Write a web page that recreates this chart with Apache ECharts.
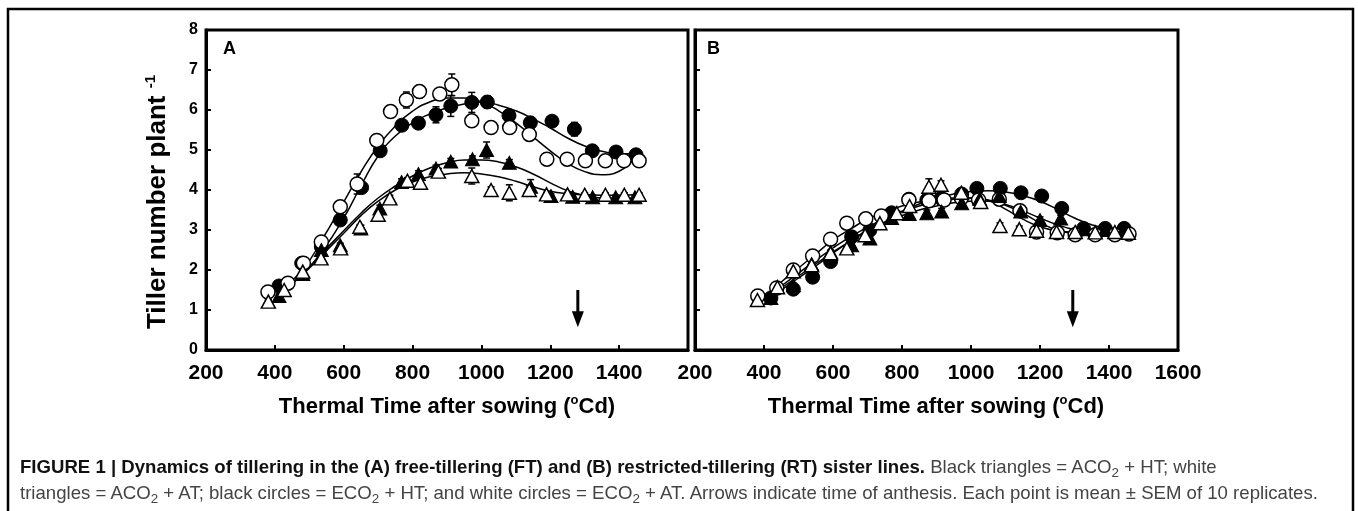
<!DOCTYPE html>
<html>
<head>
<meta charset="utf-8">
<script src="https://cdn.jsdelivr.net/npm/echarts@6/dist/echarts.min.js"></script>
<style>
  html, body { margin: 0; padding: 0; background: #fff; }
  #wrap { position: relative; width: 1358px; height: 511px; overflow: hidden; }
  #chart { position: absolute; left: 0; top: 0; width: 1358px; height: 511px; }
  #caption {
    position: absolute; left: 20px; top: 454px;
    font-family: 'Liberation Sans', Arial, sans-serif; font-size: 18.6px; line-height: 26px;
    color: #444; white-space: nowrap;
  }
  #caption b { color: #111; }
  #caption sub { font-size: 0.72em; vertical-align: -0.3em; line-height: 0; }
</style>
</head>
<body>
<div id="wrap">
  <div id="chart"></div>
  <div id="caption"><b>FIGURE 1 | Dynamics of tillering in the (A) free-tillering (FT) and (B) restricted-tillering (RT) sister lines.</b> Black triangles = ACO<sub>2</sub> + HT; white<br>triangles = ACO<sub>2</sub> + AT; black circles = ECO<sub>2</sub> + HT; and white circles = ECO<sub>2</sub> + AT. Arrows indicate time of anthesis. Each point is mean ± SEM of 10 replicates.</div>
</div>
<script>
// ---------- panel A : free-tillering (FT) ----------
// black triangles = ACO2 + HT
const ftAcoHtX = [412, 481, 535, 590, 650, 705, 768, 817, 868, 911, 974, 1015, 1081, 1143, 1202, 1265, 1323, 1390, 1446];
const ftAcoHtY = [1.35, 1.9, 2.5, 2.62, 3.04, 3.54, 4.2, 4.4, 4.54, 4.71, 4.77, 5.0, 4.68, 4.08, 3.85, 3.83, 3.82, 3.82, 3.82];
const ftAcoHtE = [0.05, 0.05, 0.05, 0.05, 0.08, 0.08, 0.08, 0.08, 0.08, 0.08, 0.08, 0.2, 0.08, 0.18, 0.05, 0.05, 0.05, 0.05, 0.05];
// white triangles = ACO2 + AT
const ftAcoAtX = [381, 427, 481, 534, 591, 647, 700, 734, 785, 823, 875, 972, 1028, 1081, 1139, 1189, 1250, 1300, 1360, 1415, 1458];
const ftAcoAtY = [1.21, 1.5, 1.96, 2.29, 2.54, 3.08, 3.38, 3.79, 4.23, 4.18, 4.46, 4.35, 4.0, 3.93, 4.0, 3.89, 3.89, 3.88, 3.88, 3.88, 3.88];
const ftAcoAtE = [0.05, 0.05, 0.05, 0.05, 0.05, 0.05, 0.08, 0.08, 0.08, 0.08, 0.08, 0.2, 0.08, 0.2, 0.1, 0.05, 0.05, 0.05, 0.05, 0.05, 0.05];
// black circles = ECO2 + HT
const ftEcoHtX = [412, 478, 535, 590, 652, 706, 769, 817, 868, 911, 972, 1017, 1080, 1142, 1205, 1270, 1322, 1391, 1449];
const ftEcoHtY = [1.6, 2.17, 2.58, 3.25, 4.06, 4.98, 5.62, 5.67, 5.88, 6.1, 6.19, 6.2, 5.86, 5.68, 5.72, 5.52, 4.98, 4.95, 4.88];
const ftEcoHtE = [0.05, 0.05, 0.05, 0.05, 0.08, 0.1, 0.08, 0.08, 0.2, 0.26, 0.25, 0.15, 0.08, 0.1, 0.08, 0.17, 0.08, 0.08, 0.1];
// white circles = ECO2 + AT
const ftEcoAtX = [380, 438, 483, 535, 590, 639, 696, 736, 782, 820, 879, 914, 972, 1028, 1082, 1139, 1190, 1249, 1302, 1360, 1414, 1458];
const ftEcoAtY = [1.45, 1.67, 2.17, 2.7, 3.58, 4.15, 5.24, 5.96, 6.25, 6.46, 6.4, 6.63, 5.73, 5.56, 5.56, 5.39, 4.77, 4.77, 4.73, 4.73, 4.73, 4.73];
const ftEcoAtE = [0.05, 0.05, 0.05, 0.08, 0.08, 0.25, 0.1, 0.08, 0.2, 0.15, 0.08, 0.27, 0.1, 0.08, 0.08, 0.1, 0.08, 0.08, 0.08, 0.08, 0.08, 0.08];
// fitted curves
const ftCurveX = [420, 480, 540, 600, 650, 700, 750, 800, 850, 900, 950, 1000, 1050, 1100, 1150, 1200, 1250, 1300, 1350, 1400, 1450];
const ftAcoHtFit = [1.42, 1.9, 2.45, 2.98, 3.42, 3.8, 4.1, 4.35, 4.55, 4.68, 4.75, 4.75, 4.7, 4.58, 4.4, 4.18, 3.98, 3.86, 3.8, 3.79, 3.8];
const ftAcoAtFit = [1.42, 1.88, 2.4, 2.92, 3.36, 3.72, 4.0, 4.2, 4.33, 4.4, 4.43, 4.4, 4.33, 4.22, 4.08, 3.97, 3.91, 3.88, 3.87, 3.87, 3.88];
const ftEcoHtFit = [1.5, 1.9, 2.5, 3.3, 4.1, 4.85, 5.35, 5.68, 5.9, 6.05, 6.15, 6.2, 6.12, 5.98, 5.78, 5.55, 5.3, 5.1, 4.97, 4.9, 4.92];
const ftEcoAtFit = [1.55, 2.0, 2.8, 3.7, 4.45, 5.1, 5.6, 5.97, 6.2, 6.3, 6.3, 6.2, 5.98, 5.68, 5.33, 4.98, 4.67, 4.46, 4.38, 4.47, 4.85];

// ---------- panel B : restricted-tillering (RT) ----------
const rtAcoHtX = [420, 485, 538, 593, 654, 707, 770, 821, 872, 915, 973, 1025, 1082, 1144, 1200, 1260, 1326, 1389, 1444];
const rtAcoHtY = [1.3, 1.62, 2.15, 2.45, 2.62, 2.79, 3.3, 3.4, 3.42, 3.46, 3.67, 3.78, 3.85, 3.46, 3.25, 3.29, 3.02, 3.0, 3.02];
const rtAcoHtE = [0.05, 0.05, 0.05, 0.05, 0.05, 0.05, 0.05, 0.08, 0.08, 0.08, 0.08, 0.08, 0.08, 0.08, 0.08, 0.08, 0.05, 0.05, 0.05];
const rtAcoAtX = [381, 439, 485, 538, 593, 640, 693, 736, 785, 822, 878, 913, 972, 1028, 1084, 1140, 1190, 1248, 1302, 1360, 1417, 1456];
const rtAcoAtY = [1.25, 1.57, 1.97, 2.12, 2.42, 2.54, 2.87, 3.17, 3.42, 3.6, 4.08, 4.13, 3.93, 3.7, 3.1, 3.02, 2.98, 2.95, 2.95, 2.94, 2.95, 2.93];
const rtAcoAtE = [0.05, 0.05, 0.05, 0.05, 0.05, 0.05, 0.05, 0.05, 0.05, 0.08, 0.2, 0.1, 0.08, 0.15, 0.08, 0.08, 0.05, 0.05, 0.05, 0.05, 0.05, 0.05];
const rtEcoHtX = [420, 485, 541, 593, 654, 707, 770, 820, 872, 913, 973, 1017, 1085, 1145, 1205, 1263, 1326, 1389, 1444];
const rtEcoHtY = [1.3, 1.52, 1.82, 2.21, 2.83, 3.0, 3.43, 3.77, 3.75, 3.79, 3.9, 4.04, 4.04, 3.93, 3.85, 3.54, 3.04, 3.04, 3.04];
const rtEcoHtE = [0.05, 0.05, 0.05, 0.05, 0.05, 0.05, 0.05, 0.05, 0.05, 0.08, 0.08, 0.08, 0.08, 0.08, 0.08, 0.08, 0.05, 0.05, 0.05];
const rtEcoAtX = [382, 437, 485, 541, 593, 640, 695, 740, 820, 878, 922, 972, 1022, 1082, 1142, 1190, 1250, 1302, 1360, 1417, 1458];
const rtEcoAtY = [1.35, 1.55, 2.0, 2.35, 2.77, 3.17, 3.28, 3.35, 3.75, 3.73, 3.75, 3.8, 3.75, 3.77, 3.48, 2.95, 2.93, 2.88, 2.88, 2.88, 2.9];
const rtEcoAtE = [0.05, 0.05, 0.05, 0.05, 0.05, 0.05, 0.05, 0.05, 0.05, 0.05, 0.05, 0.05, 0.05, 0.08, 0.08, 0.05, 0.05, 0.05, 0.05, 0.05, 0.05];
const rtCurveX = [400, 450, 500, 550, 600, 650, 700, 750, 800, 850, 900, 950, 1000, 1050, 1100, 1150, 1200, 1250, 1300, 1350, 1400, 1450];
const rtAcoHtFit = [1.25, 1.55, 1.85, 2.15, 2.45, 2.72, 2.97, 3.18, 3.36, 3.5, 3.6, 3.68, 3.72, 3.72, 3.64, 3.48, 3.3, 3.13, 3.01, 2.96, 2.95, 2.97];
const rtAcoAtFit = [1.28, 1.6, 1.92, 2.24, 2.55, 2.83, 3.07, 3.28, 3.46, 3.6, 3.7, 3.77, 3.8, 3.74, 3.52, 3.27, 3.08, 2.98, 2.94, 2.92, 2.92, 2.93];
const rtEcoHtFit = [1.22, 1.5, 1.8, 2.1, 2.42, 2.72, 3.0, 3.25, 3.47, 3.65, 3.8, 3.9, 3.96, 3.98, 3.95, 3.86, 3.72, 3.52, 3.3, 3.13, 3.03, 3.0];
const rtEcoAtFit = [1.32, 1.7, 2.05, 2.4, 2.75, 3.02, 3.27, 3.45, 3.6, 3.7, 3.77, 3.8, 3.8, 3.75, 3.62, 3.42, 3.18, 3.0, 2.91, 2.88, 2.88, 2.9];

// time of anthesis (arrows), panel A then B
const anthesis = [1280, 1295];

const xTicks = [200, 400, 600, 800, 1000, 1200, 1400, 1600];

const FONT = "'Liberation Sans', Arial, sans-serif";

function pairs(xs, ys) { return xs.map((x, i) => [x, ys[i]]); }
function triples(xs, ys, es) { return xs.map((x, i) => [x, ys[i], es[i]]); }

// error bars drawn under the markers
function renderErr(params, api) {
  const x = api.value(0), y = api.value(1), e = api.value(2);
  const t = api.coord([x, y + e]);
  const b = api.coord([x, y - e]);
  const cap = 3.5;
  const st = { stroke: '#000', lineWidth: 1.5 };
  return {
    type: 'group', children: [
      { type: 'line', shape: { x1: t[0], y1: t[1], x2: b[0], y2: b[1] }, style: st },
      { type: 'line', shape: { x1: t[0] - cap, y1: t[1], x2: t[0] + cap, y2: t[1] }, style: st },
      { type: 'line', shape: { x1: b[0] - cap, y1: b[1], x2: b[0] + cap, y2: b[1] }, style: st }
    ]
  };
}

function renderArrow(params, api) {
  const x = api.value(0);
  const a = api.coord([x, api.value(1)]);
  const b = api.coord([x, api.value(2)]);
  const hw = 6, hh = 16;
  return {
    type: 'group', children: [
      { type: 'line', shape: { x1: a[0], y1: a[1], x2: b[0], y2: b[1] - hh + 2 }, style: { stroke: '#000', lineWidth: 3 } },
      { type: 'polygon', shape: { points: [[b[0] - hw, b[1] - hh], [b[0] + hw, b[1] - hh], [b[0], b[1]]] }, style: { fill: '#000' } }
    ]
  };
}

function panel(g, sets, curveX, fits, anth) {
  const out = [];
  fits.forEach(f => out.push({
    type: 'line', xAxisIndex: g, yAxisIndex: g, data: pairs(curveX, f),
    smooth: true, showSymbol: false, silent: true, z: 2,
    lineStyle: { color: '#000', width: 1.5 }
  }));
  sets.forEach(s => out.push({
    type: 'custom', xAxisIndex: g, yAxisIndex: g, data: triples(s.x, s.y, s.e),
    renderItem: renderErr, encode: { x: 0, y: 1 }, silent: true, z: 3
  }));
  sets.forEach((s, k) => out.push({
    type: 'scatter', xAxisIndex: g, yAxisIndex: g, data: pairs(s.x, s.y),
    symbol: s.tri ? 'triangle' : 'circle',
    symbolSize: s.tri ? [14, 13] : 14,
    itemStyle: s.filled ? { color: '#000', borderColor: '#000', borderWidth: 1, opacity: 1 }
                        : { color: '#fff', borderColor: '#000', borderWidth: 1.5, opacity: 1 },
    silent: true, z: 4 + k
  }));
  out.push({
    type: 'custom', xAxisIndex: g, yAxisIndex: g, data: [[anth, 1.5, 0.57]],
    renderItem: renderArrow, encode: { x: 0, y: 1 }, silent: true, z: 9
  });
  return out;
}

const seriesA = panel(0, [
  { x: ftEcoHtX, y: ftEcoHtY, e: ftEcoHtE, tri: false, filled: true },
  { x: ftEcoAtX, y: ftEcoAtY, e: ftEcoAtE, tri: false, filled: false },
  { x: ftAcoHtX, y: ftAcoHtY, e: ftAcoHtE, tri: true, filled: true },
  { x: ftAcoAtX, y: ftAcoAtY, e: ftAcoAtE, tri: true, filled: false }
], ftCurveX, [ftAcoHtFit, ftAcoAtFit, ftEcoHtFit, ftEcoAtFit], anthesis[0]);

const seriesB = panel(1, [
  { x: rtEcoHtX, y: rtEcoHtY, e: rtEcoHtE, tri: false, filled: true },
  { x: rtEcoAtX, y: rtEcoAtY, e: rtEcoAtE, tri: false, filled: false },
  { x: rtAcoHtX, y: rtAcoHtY, e: rtAcoHtE, tri: true, filled: true },
  { x: rtAcoAtX, y: rtAcoAtY, e: rtAcoAtE, tri: true, filled: false }
], rtCurveX, [rtAcoHtFit, rtAcoAtFit, rtEcoHtFit, rtEcoAtFit], anthesis[1]);

function xAxis(g, hideLast) {
  return {
    gridIndex: g, type: 'value', min: xTicks[0], max: xTicks[xTicks.length - 1], interval: 200,
    axisLine: { show: true, onZero: false, lineStyle: { color: '#000', width: 3 } },
    axisTick: { show: true, inside: true, length: 5, lineStyle: { color: '#000', width: 2 } },
    splitLine: { show: false },
    axisLabel: {
      fontSize: 21, fontWeight: 'bold', color: '#000', fontFamily: FONT, margin: 13,
      formatter: v => (hideLast && v === 1600) ? '' : String(v)
    }
  };
}
function yAxis(g, labels) {
  return {
    gridIndex: g, type: 'value', min: 0, max: 8, interval: 1,
    axisLine: { show: true, onZero: false, lineStyle: { color: '#000', width: 3 } },
    axisTick: { show: true, inside: true, length: 5, lineStyle: { color: '#000', width: 2 } },
    splitLine: { show: false },
    axisLabel: { show: labels, fontSize: 16, fontWeight: 'bold', color: '#000', fontFamily: FONT, margin: 8 }
  };
}

const titleRich = {
  t: { fontSize: 22, fontWeight: 'bold', fontFamily: FONT, fill: '#000', lineHeight: 26 },
  s: { fontSize: 13, fontWeight: 'bold', fontFamily: FONT, fill: '#000', lineHeight: 26, verticalAlign: 'top' }
};

const chart = echarts.init(document.getElementById('chart'), null, { renderer: 'canvas' });
chart.setOption({
  animation: false,
  backgroundColor: '#fff',
  grid: [
    { left: 206, top: 30, width: 482, height: 320, show: true, borderColor: '#000', borderWidth: 3, backgroundColor: 'transparent' },
    { left: 695, top: 30, width: 483, height: 320, show: true, borderColor: '#000', borderWidth: 3, backgroundColor: 'transparent' }
  ],
  xAxis: [xAxis(0, true), xAxis(1, false)],
  yAxis: [yAxis(0, true), yAxis(1, false)],
  series: seriesA.concat(seriesB),
  graphic: [
    { type: 'rect', shape: { x: 8, y: 9, width: 1345, height: 560 }, style: { fill: 'none', stroke: '#000', lineWidth: 2.5 }, silent: true },
    { type: 'text', x: 223, y: 40, style: { text: 'A', fontSize: 18, fontWeight: 'bold', fontFamily: FONT, fill: '#000' } },
    { type: 'text', x: 707, y: 40, style: { text: 'B', fontSize: 18, fontWeight: 'bold', fontFamily: FONT, fill: '#000' } },
    {
      type: 'text', x: 158, y: 202, rotation: Math.PI / 2,
      style: {
        text: '{t|Tiller number plant }{s|-1}', align: 'center', verticalAlign: 'middle',
        rich: {
          t: { fontSize: 26, fontWeight: 'bold', fontFamily: FONT, fill: '#000', lineHeight: 30 },
          s: { fontSize: 15, fontWeight: 'bold', fontFamily: FONT, fill: '#000', lineHeight: 30, verticalAlign: 'top' }
        }
      }
    },
    {
      type: 'text', x: 447, y: 407,
      style: { text: '{t|Thermal Time after sowing (}{s|o}{t|Cd)}', align: 'center', verticalAlign: 'middle', rich: titleRich }
    },
    {
      type: 'text', x: 936, y: 407,
      style: { text: '{t|Thermal Time after sowing (}{s|o}{t|Cd)}', align: 'center', verticalAlign: 'middle', rich: titleRich }
    }
  ]
});
</script>
</body>
</html>
